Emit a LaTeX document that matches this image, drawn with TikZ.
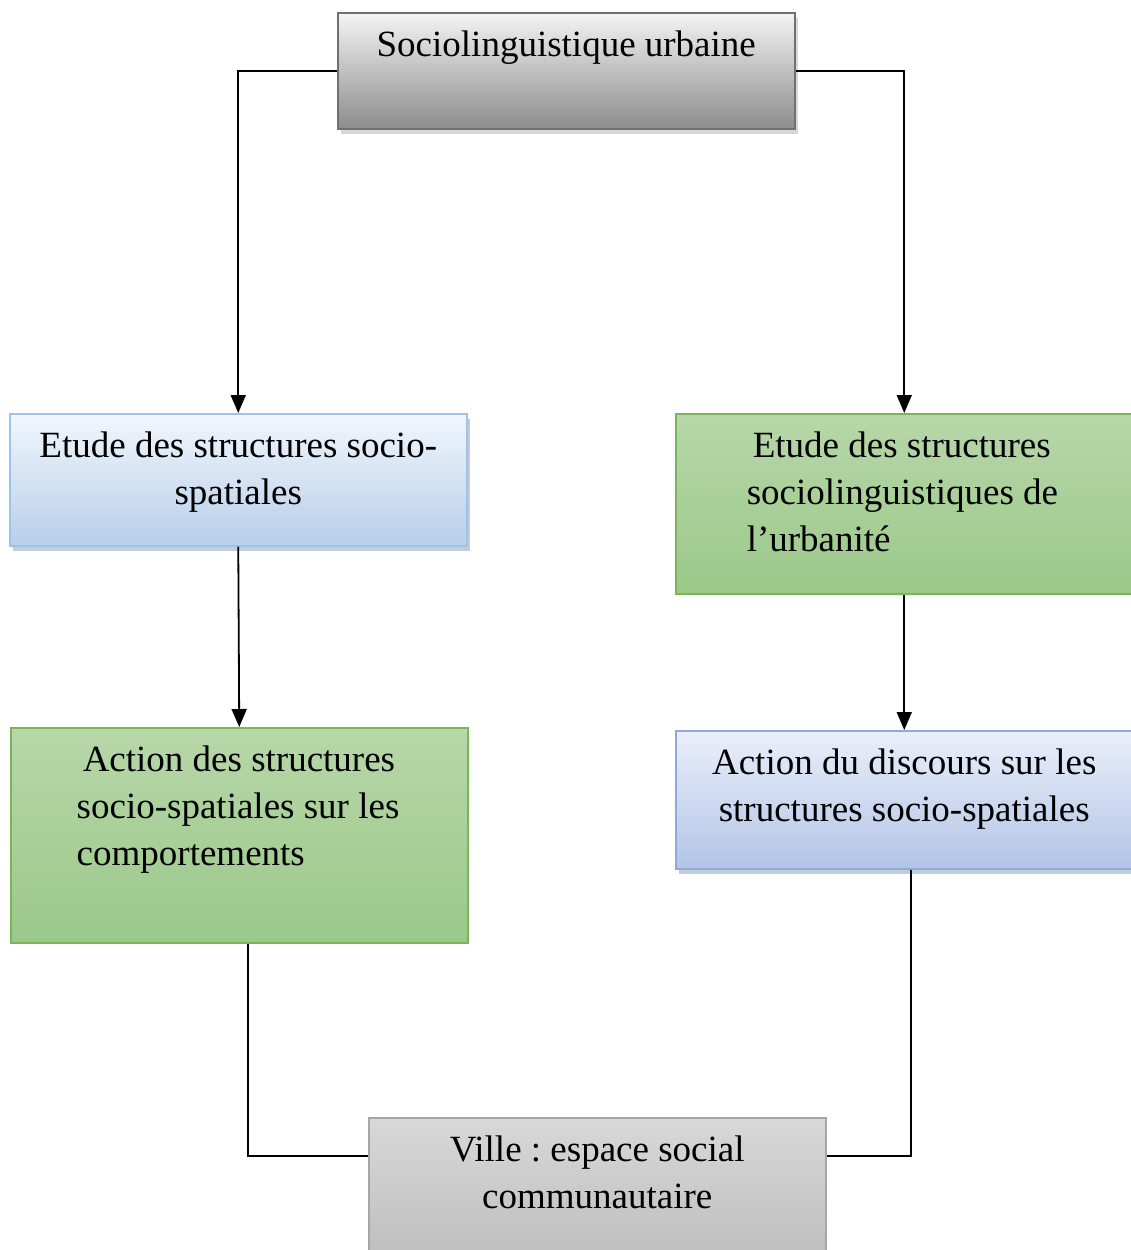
\documentclass[tikz,border=0pt]{standalone}
\usepackage{fontspec}
\setmainfont{Liberation Serif}
\usetikzlibrary{arrows.meta,shadows}
\definecolor{GreyTop}{RGB}{244,244,244}
\definecolor{GreyBot}{RGB}{140,140,140}
\definecolor{GreyEdge}{RGB}{112,112,112}
\definecolor{BlueTop}{RGB}{241,246,252}
\definecolor{BlueBot}{RGB}{184,206,234}
\definecolor{BlueEdge}{RGB}{157,195,230}
\definecolor{GreenTop}{RGB}{183,215,169}
\definecolor{GreenBot}{RGB}{155,200,137}
\definecolor{GreenEdge}{RGB}{122,181,92}
\definecolor{LilacTop}{RGB}{234,239,250}
\definecolor{LilacBot}{RGB}{178,196,230}
\definecolor{LilacEdge}{RGB}{142,170,219}
\definecolor{StoneTop}{RGB}{216,216,216}
\definecolor{StoneBot}{RGB}{190,190,190}
\definecolor{StoneEdge}{RGB}{166,166,166}
\newcommand{\cell}[2]{\parbox[t][#1pt][t]{457pt}{\frenchspacing\vspace*{18pt}#2}}

\begin{document}
\begin{tikzpicture}[x=1pt,y=-1pt,
  box/.style={draw, line width=1.5pt, anchor=north west, inner sep=0pt,
    font=\fontsize{37pt}{47pt}\selectfont},
  greybox/.style={box, draw=GreyEdge, top color=GreyTop, bottom color=GreyBot,
    drop shadow={shadow xshift=3pt, shadow yshift=-5pt, fill=black!30}},
  bluebox/.style={box, draw=BlueEdge, top color=BlueTop, bottom color=BlueBot,
    drop shadow={shadow xshift=3pt, shadow yshift=-5pt, fill=LilacEdge!60!gray}},
  lilacbox/.style={box, draw=LilacEdge, top color=LilacTop, bottom color=LilacBot,
    drop shadow={shadow xshift=3pt, shadow yshift=-5pt, fill=LilacEdge!60!gray}},
  greenbox/.style={box, draw=GreenEdge, top color=GreenTop, bottom color=GreenBot},
  stonebox/.style={box, draw=StoneEdge, top color=StoneTop, bottom color=StoneBot},
  arrow/.style={line width=1.8pt, -{Triangle[width=15pt,length=18pt]}},
  link/.style={line width=1.8pt}]
  \useasboundingbox (0,0) rectangle (1130,1250);

  \node[greybox] (urb) at (337,12) {\cell{116}{\centering Sociolinguistique urbaine}};
  \node[bluebox] (esp) at (9,413) {\cell{132}{\centering Etude des structures socio-\\spatiales}};
  \node[greenbox] (eul) at (675,413) {\cell{180}{\raggedright\leftskip=71pt\relax
    \hspace*{6pt}Etude des structures\\sociolinguistiques de\\l’urbanité}};
  \node[greenbox] (acs) at (10,727) {\cell{215}{\raggedright\leftskip=66pt\relax
    \hspace*{6pt}Action des structures\\socio-spatiales sur les\\comportements}};
  \node[lilacbox] (adi) at (675,730) {\cell{138}{\centering Action du discours sur les\\structures socio-spatiales}};
  \node[stonebox] (ville) at (368,1117) {\cell{140}{\centering Ville : espace social\\communautaire}};

  \coordinate (villeW) at ([yshift=-39pt]ville.north west);
  \coordinate (villeE) at ([yshift=-39pt]ville.north east);

  \draw[arrow] (urb.west) -| (esp.north);
  \draw[arrow] (urb.east) -| (eul.north);
  \draw[arrow] (esp.south) -- (acs.north);
  \draw[arrow] (eul.south) -- (adi.north);
  \draw[link] ([xshift=9pt]acs.south) |- (villeW);
  \draw[link] ([xshift=7pt]adi.south) |- (villeE);
\end{tikzpicture}
\end{document}
